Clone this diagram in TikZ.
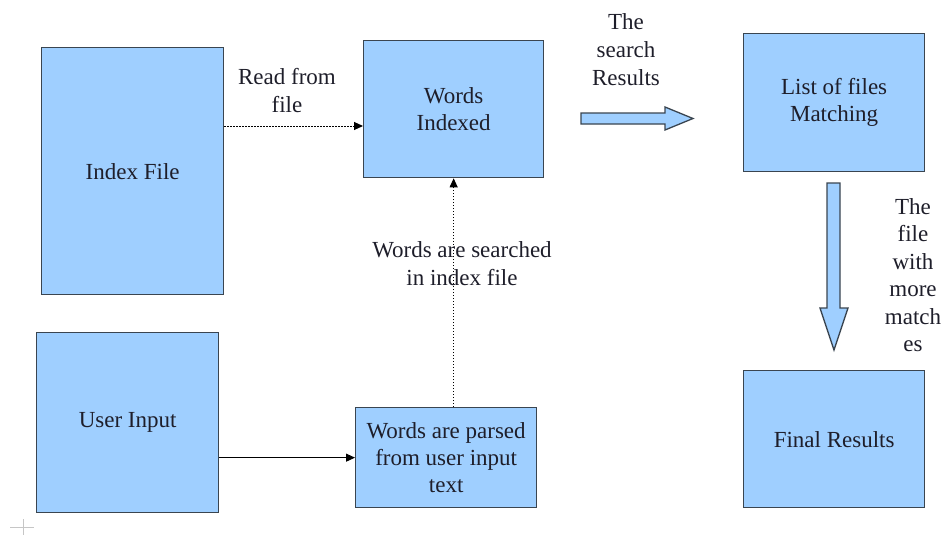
\documentclass[tikz,border=0pt]{standalone}
\usepackage{fontspec}
\setmainfont{Liberation Serif}
\usetikzlibrary{arrows.meta}
\definecolor{boxfill}{HTML}{9FCFFF}
\definecolor{boxline}{HTML}{3A4550}
\definecolor{txt}{HTML}{1E1E2A}
\begin{document}
\begin{tikzpicture}[x=1pt,y=-1pt,
 box/.style={draw=boxline, line width=1.3pt, fill=boxfill, anchor=north west, inner sep=2pt, align=center, font=\fontsize{23}{27}\selectfont, text=txt},
 lbl/.style={align=center, font=\fontsize{23}{28}\selectfont, text=txt},
 dotarrow/.style={line width=1pt, dash pattern=on 1.5pt off 1.5pt, -{Triangle[length=9pt,width=8pt]}},
 solidarrow/.style={line width=1pt, -{Triangle[length=9pt,width=8pt]}},
 blockarrow/.style={draw=boxline, line width=1.3pt, fill=boxfill, line join=miter}
]
\useasboundingbox (0,0) rectangle (945,535);

\node[box, minimum width=182pt, minimum height=247pt] (index) at (41,47) {Index File};
\node[box, minimum width=180pt, minimum height=137pt] (wi) at (363,40) {Words\\Indexed};
\node[box, minimum width=181pt, minimum height=138pt] (list) at (743,33) {List of files\\Matching};
\node[box, minimum width=182pt, minimum height=180pt] (user) at (36,332) {User Input};
\node[box, minimum width=181pt, minimum height=100pt] (parsed) at (355,407) {Words are parsed\\from user input\\text};
\node[box, minimum width=181pt, minimum height=137pt] (final) at (743,370) {Final Results};

\coordinate (r1) at (0,126);
\draw[dotarrow] (index.east |- r1) -- (wi.west |- r1);
\draw[dotarrow] (parsed.north -| wi.south) -- (wi.south);
\draw[solidarrow] (user.east |- parsed.west) -- (parsed.west);

\node[lbl] (l1) at (287,91) {Read from\\file};
\node[lbl] (l2) at (462,264) {Words are searched\\in index file};
\node[lbl] (l3) at (626,50) {The\\search\\Results};
\node[lbl, font=\fontsize{23}{27.5}\selectfont] (l4) at (913,275) {The\\file\\with\\more\\match\\es};

% block arrows
\draw[blockarrow] (581,113) -- (665,113) -- (665,107) -- (693,118.5) -- (665,130) -- (665,124) -- (581,124) -- cycle;
\draw[blockarrow] (827,183) -- (840,183) -- (840,308) -- (848,308) -- (834,350) -- (820,308) -- (827,308) -- cycle;

% small crosshair mark
\draw[gray!45, line width=0.8pt] (10,527) -- (34,527) (23,519) -- (23,535);
\end{tikzpicture}
\end{document}
